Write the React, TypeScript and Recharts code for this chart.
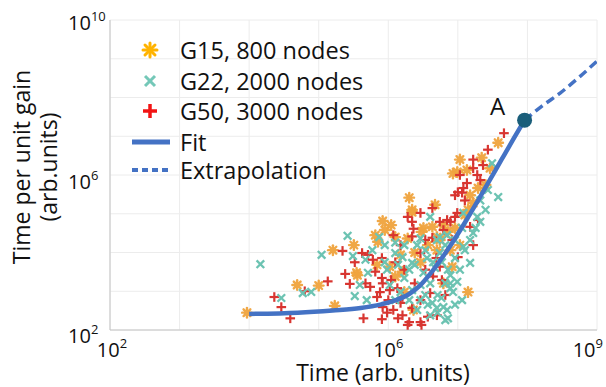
import React from 'react';
import { ScatterChart, Scatter, XAxis, YAxis, CartesianGrid, Legend } from 'recharts';

const FONT = '"Open Sans", "DejaVu Sans", sans-serif';

// ---- axis ticks ----
const xTicks = [1e2, 1e3, 1e4, 1e5, 1e6, 1e7, 1e8, 1e9];
const yTicks = [1e2, 1e3, 1e4, 1e5, 1e6, 1e7, 1e8, 1e9, 1e10];
const xLabelExps = [2, 6, 9];
const yLabelExps = [2, 6, 10];

// ---- labels ----
const seriesNames = ['G15, 800 nodes', 'G22, 2000 nodes', 'G50, 3000 nodes', 'Fit', 'Extrapolation'];
const xTitle = 'Time (arb. units)';
const yTitle = ['Time per unit gain', '(arb.units)'];
const pointALabel = 'A';

// ---- G15, 800 nodes ----
const g15Time = [9.3e3, 4.9e4, 1.0e5, 1.7e5, 1.6e5, 3.2e5, 3.6e5, 6.5e5, 7.1e5, 8.3e5, 1.1e6, 2.2e6, 4.7e6, 3.2e6, 8.5e6, 1.35e7, 1.4e7, 6.9e5, 1.9e6, 1.05e6, 2.4e6, 3.5e5, 2.3e6, 8.3e6, 2.0e6, 2.2e6, 4.3e6, 3.0e6, 3.8e7, 2.2e7, 9.8e6, 2.5e7, 1.66e7, 1.4e7, 6.2e6, 5.0e6, 7.2e6, 6.2e6, 5.0e6, 7.8e6, 1.5e6, 2.9e6, 3.7e6, 1.26e6, 1.7e6, 1.5e7, 1.07e7, 2.9e7, 1.26e6, 5.5e6, 1.07e7, 1.6e6, 8.9e5, 1.26e7, 9.1e6, 1.95e7];
const g15Gain = [2.8e2, 1.45e3, 1.4e3, 4.2e2, 1.15e4, 1.55e4, 2.6e3, 2.8e4, 1.9e4, 6.5e4, 5.1e4, 1.26e5, 1.7e5, 4.3e4, 1.1e6, 1.35e6, 9.5e2, 4.8e3, 2.3e4, 4.3e3, 1.0e4, 3.0e3, 3.3e2, 4.3e3, 2.6e5, 1.1e5, 4.6e4, 3.4e4, 6.8e6, 2.8e6, 1.2e6, 5.5e5, 1.9e5, 1.26e5, 5.1e4, 2.5e4, 3.4e4, 1.6e3, 1.15e4, 1.15e4, 8.7e3, 5.6e3, 1.55e4, 2.4e3, 9.5e2, 3.0e5, 2.5e6, 1.5e6, 2.5e4, 2.1e4, 1.55e4, 3.2e3, 3.8e4, 9.3e4, 4.3e4, 4.6e5];

// ---- G22, 2000 nodes ----
const g22Time = [1.45e4, 2.6e5, 1.1e5, 3.1e5, 2.9e4, 5.9e4, 7.8e4, 3.3e5, 7.4e5, 9.6e5, 1.26e6, 4.0e6, 1.26e6, 2.6e6, 5.0e6, 7.0e6, 4.7e5, 1.6e6, 2.2e6, 3.6e6, 5.5e6, 5.1e5, 1.7e6, 4.0e6, 6.6e6, 3.2e6, 4.9e5, 5.0e6, 4.3e6, 6.2e6, 6.6e6, 5.1e6, 7.8e6, 2.6e6, 5.5e6, 3.1e7, 2.7e7, 3.8e7, 2.1e7, 1.2e7, 1.9e7, 2.1e7, 1.66e7, 1.5e7, 1.2e7, 1.5e7, 1.07e7, 7.8e6, 8.5e6, 5.8e6, 7.0e6, 5.1e6, 2.0e6, 2.9e6, 4.7e6, 1.38e6, 9.1e6, 7.2e6, 3.4e6, 8.9e5, 1.15e7, 6.6e6, 9.1e6, 4.0e6, 2.9e6, 1.05e6, 1.5e6, 2.0e6, 2.4e6, 3.4e6, 4.4e6, 5.9e6, 7.8e6, 9.8e6, 1.15e7, 9.1e6, 7.2e6, 3.7e6, 2.2e6, 1.7e6, 2.9e6, 5.9e5, 8.9e5, 3.9e5, 1.26e6, 1.26e7, 1.8e7, 2.5e7];
const g22Gain = [5.0e3, 2.7e4, 8.7e3, 8.1e3, 6.7e2, 9.0e2, 9.6e2, 7.5e2, 2.5e4, 3.6e3, 9.7e3, 8.3e4, 1.8e4, 1.55e4, 2.1e4, 2.8e4, 6.5e3, 7.6e3, 5.4e3, 7.2e3, 9.7e3, 3.0e3, 2.2e3, 1.6e3, 1.6e3, 3.0e3, 5.9e2, 3.7e2, 5.0e2, 3.9e2, 1.8e2, 2.8e2, 1.2e3, 3.3e2, 2.5e4, 2.0e6, 4.1e5, 2.7e5, 2.2e5, 1.05e5, 8.3e4, 6.2e4, 3.2e4, 2.1e4, 1.4e4, 5.4e3, 3.6e3, 1.6e3, 9.6e2, 6.7e2, 3.3e2, 8.0e2, 3.6e3, 1.45e3, 4.0e3, 4.8e3, 7.2e3, 3.6e3, 8.0e2, 1.55e4, 4.3e4, 1.55e4, 2.1e4, 2.4e2, 5.9e2, 1.45e3, 9.5e2, 5.9e2, 4.8e3, 1.15e4, 5.6e3, 5.6e3, 2.6e3, 1.75e3, 5.9e2, 4.5e2, 2.0e2, 4.5e2, 1.07e3, 1.55e4, 2.3e4, 1.15e4, 5.6e3, 1.45e3, 5.9e2, 1.15e4, 4.3e4, 1.26e5];

// ---- G50, 3000 nodes ----
const g50Time = [2.3e4, 2.9e4, 3.9e4, 6.3e4, 1.35e5, 2.2e5, 2.4e5, 2.8e5, 4.2e5, 5.1e5, 4.4e5, 6.0e5, 5.5e5, 6.9e5, 8.3e5, 9.6e5, 1.05e6, 8.1e5, 1.38e6, 1.9e6, 3.0e6, 1.9e6, 2.2e6, 2.9e6, 4.3e6, 5.5e6, 1.07e7, 1.35e7, 1.18e6, 2.2e6, 4.3e6, 8.1e5, 2.9e6, 3.4e6, 5.5e6, 8.3e5, 1.1e6, 1.35e6, 1.6e6, 2.4e6, 1.5e6, 2.9e6, 8.1e5, 1.18e6, 1.6e6, 2.9e6, 3.7e6, 2.0e6, 2.3e6, 7.0e6, 6.2e6, 9.8e6, 1.0e7, 4.6e7, 2.7e7, 2.3e7, 1.66e7, 1.9e7, 2.1e7, 1.2e7, 1.15e7, 9.1e6, 7.8e6, 1.5e7, 1.66e7, 1.95e7, 1.0e7, 4.4e6, 5.9e6, 5.0e6, 3.3e5, 6.5e5, 1.26e6, 1.7e6, 7.6e5, 4.7e5, 1.0e6, 2.2e6, 4.0e6, 6.6e6, 8.3e6, 4.9e6, 3.4e6, 1.5e6, 1.26e7, 9.1e6, 1.66e7];
const g50Gain = [7.1e2, 3.9e2, 2.0e2, 1.0e3, 1.8e3, 1.1e4, 2.8e3, 1.55e3, 9.7e3, 8.7e3, 2.0e2, 6.5e3, 1.3e3, 7.1e2, 3.9e2, 2.8e2, 1.07e3, 2.2e3, 2.0e2, 1.35e2, 1.35e2, 8.3e4, 6.2e4, 1.05e5, 1.4e5, 6.2e4, 1.0e6, 6.2e5, 2.8e4, 2.6e4, 2.4e4, 7.2e3, 9.7e3, 3.6e3, 4.3e3, 1.6e3, 1.95e3, 1.2e3, 7.1e2, 1.6e3, 5.0e2, 5.9e2, 1.9e2, 3.3e2, 2.4e2, 1.6e2, 2.2e2, 1.6e2, 4.1e4, 6.9e4, 3.8e4, 1.05e5, 3.6e5, 1.2e7, 4.5e6, 1.8e6, 1.5e6, 1.0e6, 7.4e5, 4.6e5, 3.5e5, 8.3e4, 6.2e4, 4.6e4, 1.55e4, 6.9e4, 7.6e3, 2.4e3, 1.95e3, 2.4e2, 5.6e3, 3.2e3, 5.6e3, 3.6e3, 9.5e2, 1.6e3, 5.9e2, 3.7e2, 9.0e2, 8.0e2, 2.1e4, 7.2e3, 2.1e4, 1.55e4, 2.2e5, 3.0e5, 2.5e6];

// ---- Fit (solid) ----
const fitTime = [1.0e4, 5.0e4, 1.58e5, 4.0e5, 7.9e5, 1.26e6, 2.0e6, 2.8e6, 4.0e6, 6.3e6, 9.1e6, 1.35e7, 2.0e7, 2.9e7, 4.3e7, 6.3e7, 9.1e7];
const fitGain = [2.6e2, 2.8e2, 3.2e2, 3.7e2, 4.6e2, 5.8e2, 8.5e2, 1.35e3, 2.8e3, 8.5e3, 2.3e4, 7.2e4, 2.4e5, 7.6e5, 2.6e6, 8.5e6, 2.6e7];

// ---- Extrapolation (dashed) ----
const extTime = [9.1e7, 1.6e8, 2.95e8, 5.6e8, 1.0e9];
const extGain = [2.6e7, 5.9e7, 1.3e8, 3.4e8, 8.7e8];

// ---- Point A ----
const pointATime = [9.1e7];
const pointAGain = [2.6e7];

const zip = (xs: number[], ys: number[]) => xs.map((x, i) => ({ x, y: ys[i] }));

const C_ORANGE = '#F0A43E';
const C_TEAL = '#6CC3B2';
const C_RED = '#D83530';
const C_FIT = '#4472C4';
const C_A = '#1A5E7A';

const Asterisk = (props: any) => {
  const { cx, cy } = props;
  if (cx == null || cy == null) return <g />;
  const r = 4.8;
  const d = r * 0.707;
  return (
    <g stroke={C_ORANGE} strokeWidth={2.4} strokeLinecap="round" opacity={0.95}>
      <circle cx={cx} cy={cy} r={3} fill={C_ORANGE} stroke="none" />
      <line x1={cx - r} y1={cy} x2={cx + r} y2={cy} />
      <line x1={cx} y1={cy - r} x2={cx} y2={cy + r} />
      <line x1={cx - d} y1={cy - d} x2={cx + d} y2={cy + d} />
      <line x1={cx - d} y1={cy + d} x2={cx + d} y2={cy - d} />
    </g>
  );
};

const Cross = (props: any) => {
  const { cx, cy } = props;
  if (cx == null || cy == null) return <g />;
  const r = 3.8;
  return (
    <g stroke={C_TEAL} strokeWidth={2.3}>
      <line x1={cx - r} y1={cy - r} x2={cx + r} y2={cy + r} />
      <line x1={cx - r} y1={cy + r} x2={cx + r} y2={cy - r} />
    </g>
  );
};

const Plus = (props: any) => {
  const { cx, cy } = props;
  if (cx == null || cy == null) return <g />;
  const r = 4.8;
  return (
    <g stroke={C_RED} strokeWidth={2.2}>
      <line x1={cx - r} y1={cy} x2={cx + r} y2={cy} />
      <line x1={cx} y1={cy - r} x2={cx} y2={cy + r} />
    </g>
  );
};

const NoShape = () => <g />;

const PointA = (props: any) => {
  const { cx, cy } = props;
  if (cx == null || cy == null) return <g />;
  return (
    <g>
      <circle cx={cx} cy={cy} r={7.5} fill={C_A} />
      <text x={cx - 27} y={cy - 5} textAnchor="middle" fontSize={24} fontFamily={FONT} fill="#111">
        {pointALabel}
      </text>
    </g>
  );
};

const XTick = (props: any) => {
  const { x, y, payload } = props;
  const e = Math.round(Math.log10(payload.value));
  if (!xLabelExps.includes(e)) return <g />;
  const anchor = e === 9 ? 'end' : 'middle';
  const dx = e === 9 ? 6 : e === 2 ? 2 : 0;
  return (
    <text x={x + dx} y={y + 27} textAnchor={anchor} fontSize={20} fontFamily={FONT} fill="#111">
      <tspan>10</tspan>
      <tspan dy={-9} fontSize={13}>{String(e)}</tspan>
    </text>
  );
};

const YTick = (props: any) => {
  const { y, payload } = props;
  const e = Math.round(Math.log10(payload.value));
  if (!yLabelExps.includes(e)) return <g />;
  const off = e === 10 ? 10 : e === 6 ? 14 : 13;
  return (
    <text x={68} y={y + off} textAnchor="start" fontSize={20} fontFamily={FONT} fill="#111">
      <tspan>10</tspan>
      <tspan dy={-9} fontSize={13}>{String(e)}</tspan>
    </text>
  );
};

const XTitle = () => (
  <text x={383} y={381} textAnchor="middle" fontSize={23} fontFamily={FONT} fill="#111">
    {xTitle}
  </text>
);

const YTitle = () => (
  <g>
    <text x={30} y={167} transform="rotate(-90, 30, 167)" textAnchor="middle" fontSize={23} fontFamily={FONT} fill="#111">
      {yTitle[0]}
    </text>
    <text x={57} y={167} transform="rotate(-90, 57, 167)" textAnchor="middle" fontSize={23} fontFamily={FONT} fill="#111">
      {yTitle[1]}
    </text>
  </g>
);

const LegendBox = () => {
  const rows = [20, 51, 81, 112, 140];
  const mx = 30;
  return (
    <svg width={260} height={160} style={{ display: 'block' }}>
      <g stroke="#FFB300" strokeWidth={3} strokeLinecap="round">
        <line x1={mx - 7} y1={rows[0]} x2={mx + 7} y2={rows[0]} />
        <line x1={mx} y1={rows[0] - 7} x2={mx} y2={rows[0] + 7} />
        <line x1={mx - 5} y1={rows[0] - 5} x2={mx + 5} y2={rows[0] + 5} />
        <line x1={mx - 5} y1={rows[0] + 5} x2={mx + 5} y2={rows[0] - 5} />
      </g>
      <g stroke="#74C8B8" strokeWidth={3}>
        <line x1={mx - 5} y1={rows[1] - 5} x2={mx + 5} y2={rows[1] + 5} />
        <line x1={mx - 5} y1={rows[1] + 5} x2={mx + 5} y2={rows[1] - 5} />
      </g>
      <g stroke="#F21414" strokeWidth={3.5}>
        <line x1={mx - 7} y1={rows[2]} x2={mx + 7} y2={rows[2]} />
        <line x1={mx} y1={rows[2] - 7} x2={mx} y2={rows[2] + 7} />
      </g>
      <line x1={12} y1={rows[3]} x2={50} y2={rows[3]} stroke={C_FIT} strokeWidth={5} />
      <line x1={12} y1={rows[4]} x2={50} y2={rows[4]} stroke={C_FIT} strokeWidth={4} strokeDasharray="6 4" />
      {seriesNames.map((n, i) => (
        <text key={n} x={60} y={rows[i] + 8.5} fontSize={23.5} fontFamily={FONT} fill="#111">
          {n}
        </text>
      ))}
    </svg>
  );
};

export default function App() {
  const g15 = zip(g15Time, g15Gain);
  const g22 = zip(g22Time, g22Gain);
  const g50 = zip(g50Time, g50Gain);
  const fit = zip(fitTime, fitGain);
  const ext = zip(extTime, extGain);
  const ptA = zip(pointATime, pointAGain);
  return (
    <div style={{ position: 'absolute', left: 0, top: 0, width: 606, height: 387, background: '#fff' }}>
      <ScatterChart width={606} height={387} margin={{ top: 20, right: 9, bottom: 0, left: 0 }}>
        <CartesianGrid stroke="#ececec" strokeWidth={1} />
        <XAxis
          type="number"
          dataKey="x"
          scale="log"
          domain={[1e2, 1e9]}
          ticks={xTicks}
          interval={0}
          allowDataOverflow
          height={57}
          tickLine={false}
          tickSize={0}
          tickMargin={0}
          axisLine={{ stroke: '#c4c4c4' }}
          tick={<XTick />}
          label={<XTitle />}
        />
        <YAxis
          type="number"
          dataKey="y"
          scale="log"
          domain={[1e2, 1e10]}
          ticks={yTicks}
          interval={0}
          allowDataOverflow
          width={110}
          tickLine={false}
          tickSize={0}
          tickMargin={0}
          axisLine={{ stroke: '#c4c4c4' }}
          tick={<YTick />}
          label={<YTitle />}
        />
        <Legend
          layout="vertical"
          align="center"
          verticalAlign="middle"
          wrapperStyle={{ position: 'absolute', left: 120, top: 30, width: 260, height: 160 }}
          content={() => <LegendBox />}
        />
        <Scatter name={seriesNames[0]} data={g15} shape={Asterisk} isAnimationActive={false} />
        <Scatter name={seriesNames[2]} data={g50} shape={Plus} isAnimationActive={false} />
        <Scatter name={seriesNames[1]} data={g22} shape={Cross} isAnimationActive={false} />
        <Scatter
          name={seriesNames[3]}
          data={fit}
          shape={NoShape}
          line={{ stroke: C_FIT, strokeWidth: 4.5 }}
          lineJointType="monotoneX"
          isAnimationActive={false}
        />
        <Scatter
          name={seriesNames[4]}
          data={ext}
          shape={NoShape}
          line={{ stroke: C_FIT, strokeWidth: 3.5, strokeDasharray: '9 5' }}
          lineJointType="monotoneX"
          isAnimationActive={false}
        />
        <Scatter name="A" data={ptA} shape={PointA} isAnimationActive={false} />
      </ScatterChart>
    </div>
  );
}
